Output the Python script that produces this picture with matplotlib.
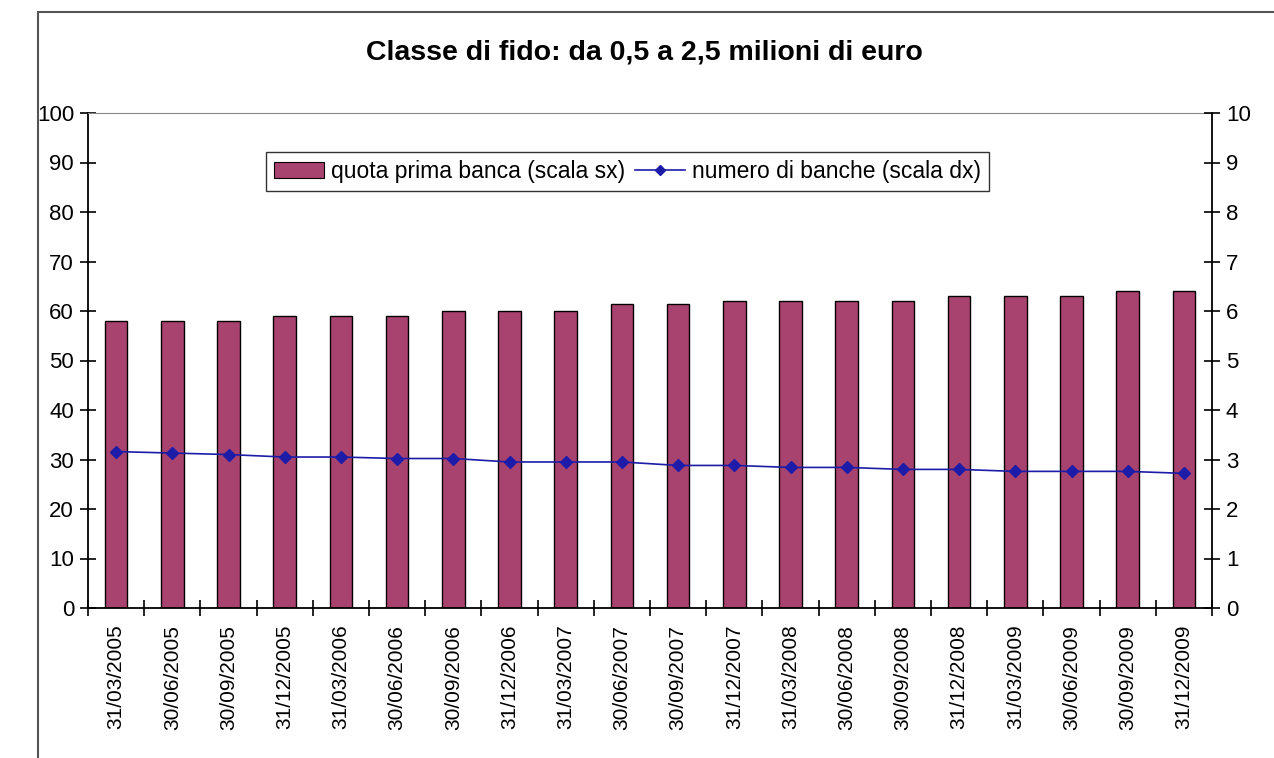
#!/usr/bin/env python
# -*- coding: utf-8 -*-

import numpy as np
import matplotlib
matplotlib.use('Agg')
import matplotlib.pyplot as plt
from matplotlib.patches import Rectangle
from matplotlib.lines import Line2D

plt.rcParams['font.family'] = ['Liberation Sans', 'DejaVu Sans']

dates = ['31/03/2005', '30/06/2005', '30/09/2005', '31/12/2005',
         '31/03/2006', '30/06/2006', '30/09/2006', '31/12/2006',
         '31/03/2007', '30/06/2007', '30/09/2007', '31/12/2007',
         '31/03/2008', '30/06/2008', '30/09/2008', '31/12/2008',
         '31/03/2009', '30/06/2009', '30/09/2009', '31/12/2009']
quota = [58, 58, 58, 59, 59, 59, 60, 60, 60, 61.5,
         61.5, 62, 62, 62, 62, 63, 63, 63, 64, 64]
banche = [3.16, 3.13, 3.10, 3.05, 3.05, 3.02, 3.02, 2.95, 2.95, 2.95,
          2.88, 2.88, 2.84, 2.84, 2.80, 2.80, 2.76, 2.76, 2.76, 2.72]

bar_color = '#a8426f'
line_color = '#1c1ca8'

fig = plt.figure(figsize=(12.74, 7.58), dpi=100)
fig.patch.set_facecolor('white')

# outer chart frame
fig.patches.append(Rectangle((38 / 1274, -0.1), 1.2, 1 - 12 / 758 + 0.1,
                             transform=fig.transFigure, fill=False,
                             edgecolor='#555555', linewidth=1.5))

ax = fig.add_axes([88 / 1274, 1 - 608 / 758, 1124 / 1274, 495 / 758])
x = np.arange(len(quota))
ax.bar(x, quota, width=0.4, color=bar_color, edgecolor='black', linewidth=1.0, zorder=2)
ax.set_xlim(-0.5, len(quota) - 0.5)
ax.set_ylim(0, 100)
ax.set_yticks(np.arange(0, 101, 10))
ax.set_xticks(x)
ax.set_xticklabels(dates, rotation=90, fontsize=15)
ax.set_xticks(np.arange(-0.5, len(quota), 1), minor=True)
ax.tick_params(axis='x', which='major', length=0, pad=12)
ax.tick_params(axis='x', which='minor', direction='inout', length=12, width=1.2)
ax.tick_params(axis='y', direction='inout', length=12, width=1.2, labelsize=16, pad=4)
for s in ['left', 'bottom']:
    ax.spines[s].set_linewidth(1.3)
ax.spines['top'].set_color('#888888')
ax.spines['top'].set_linewidth(0.8)
ax.spines['right'].set_visible(False)

ax2 = ax.twinx()
ax2.plot(x, banche, color=line_color, marker='D', markersize=6, linewidth=1.2, zorder=3)
ax2.set_ylim(0, 10)
ax2.set_yticks(np.arange(0, 11, 1))
ax2.tick_params(axis='y', direction='inout', length=12, width=1.2, labelsize=16, pad=4)
ax2.spines['right'].set_linewidth(1.3)
ax2.spines['top'].set_visible(False)
ax2.spines['left'].set_visible(False)
ax2.spines['bottom'].set_visible(False)

handles = [Rectangle((0, 0), 1, 1, facecolor=bar_color, edgecolor='black', linewidth=0.8),
           Line2D([], [], color=line_color, marker='D', markersize=5, linewidth=1.2)]
leg = ax2.legend(handles, ['quota prima banca (scala sx)', 'numero di banche (scala dx)'],
                 loc='center', bbox_to_anchor=(0.48, 0.881), ncol=2, fontsize=16.5,
                 frameon=True, fancybox=False, edgecolor='black', handlelength=2.2,
                 handletextpad=0.3, columnspacing=0.4, borderpad=0.35)
leg.get_frame().set_linewidth(1.0)

fig.text(0.506, 0.931, 'Classe di fido: da 0,5 a 2,5 milioni di euro',
         ha='center', va='center', fontsize=20.5, fontweight='bold')

fig.savefig('out.png', dpi=100)
